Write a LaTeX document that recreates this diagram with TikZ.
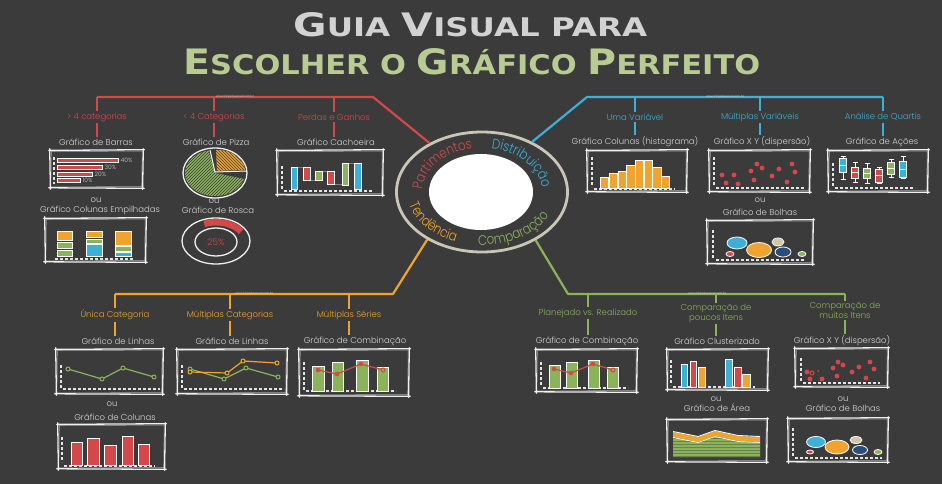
\documentclass[tikz,border=0pt]{standalone}
\usepackage{fontspec}
\usepackage{graphicx}
\usetikzlibrary{decorations.text,patterns,shapes.geometric}
\IfFontExistsTF{Poppins Light}
  {\newfontfamily\hand{Poppins Light}\newfontfamily\ringfont{Poppins Light}[FakeStretch=0.84]}
  {\newfontfamily\hand{Poppins}\newfontfamily\ringfont{Poppins}[FakeStretch=0.84]}
\newfontfamily\titlefont{DejaVu Sans}
\definecolor{bg}{HTML}{3B3B3B}
\definecolor{pred}{HTML}{D4484A}
\definecolor{pblue}{HTML}{3DB0DA}
\definecolor{porange}{HTML}{F0A430}
\definecolor{pgreen}{HTML}{8AB35B}
\definecolor{lgray}{HTML}{D6D6D6}
\definecolor{ringgray}{HTML}{C9C6B5}
\definecolor{navy}{HTML}{2B4D7E}
\definecolor{beige}{HTML}{CFC7A6}
\definecolor{titlegray}{HTML}{D2D2D2}
\definecolor{titlegreen}{HTML}{B7CB92}

% hand-drawn chart frame: x1 y1 x2 y2 (y grows downwards)
\newcommand\skbox[4]{%
  \draw[skline] (#1-1.2,#2+0.4) -- (#3+1.5,#2-0.3)
                (#3+0.3,#2-1.2) -- (#3-0.4,#4+1.3)
                (#3+1.2,#4+0.3) -- (#1-1.3,#4-0.2)
                (#1+0.4,#4+1.2) -- (#1-0.3,#2-1.3);
  \draw[skline,line width=0.5pt,opacity=0.6] (#1+1.3,#2+1.5) -- (#3-0.8,#2+1.1)
                -- (#3-1.3,#4-1.4) -- (#1+0.9,#4-1.1) -- cycle;}
\newcommand\yaxis[3]{\draw[axisl] (#1,#2) -- (#1,#3);}
\newcommand\xaxis[3]{\draw[axisl] (#2,#1) -- (#3,#1);}

\begin{document}
\begin{tikzpicture}[x=1pt,y=-1pt,
  skline/.style={draw=white!94!black,line width=1.3pt,line cap=round,line join=round},
  axisl/.style={draw=white!90!black,line width=1.3pt,dash pattern=on 3pt off 2pt},
  barw/.style={draw=white,line width=0.7pt},
  lab/.style={font=\hand\fontsize{8.5}{7}\selectfont,text=lgray,inner sep=1.5pt,align=center},
  catred/.style={lab,text=pred},
  catblue/.style={lab,text=pblue},
  catorange/.style={lab,text=porange},
  catgreen/.style={lab,text=pgreen},
  pct/.style={font=\hand\fontsize{6}{6}\selectfont,text=lgray,inner sep=0.5pt,anchor=west},
  wm/.style={font=\hand\fontsize{3}{3}\selectfont,text=white!80!gray,inner sep=0pt},
  conn/.style={line width=2.2pt},
  bub/.style={draw=white,line width=0.8pt},
  ringtext/.style={decorate,decoration={text along path,text align=left}}]

\fill[bg] (0,0) rectangle (942,484);
\useasboundingbox (0,0) rectangle (942,484);

% ---------- title ----------
\node[anchor=base west,inner sep=0,text=titlegray] (title1) at (293,37)
  {\resizebox{354pt}{24pt}{\titlefont\bfseries\fontsize{34}{34}\selectfont G\fontsize{27}{27}\selectfont UIA \fontsize{34}{34}\selectfont V\fontsize{27}{27}\selectfont ISUAL PARA}};
\node[anchor=base west,inner sep=0,text=titlegreen] (title2) at (183,75)
  {\resizebox{577pt}{26pt}{\titlefont\bfseries\fontsize{35}{35}\selectfont E\fontsize{27}{27}\selectfont SCOLHER O \fontsize{35}{35}\selectfont G\fontsize{27}{27}\selectfont R\smash{Á}FICO \fontsize{35}{35}\selectfont P\fontsize{27}{27}\selectfont ERFEITO}};

% ---------- central hub ----------
\node[ellipse,draw=ringgray,line width=2.8pt,fill=bg,minimum width=171pt,minimum height=120pt,inner sep=0pt] (hub) at (482,192) {};
\node[ellipse,fill=white,minimum width=104pt,minimum height=76pt,inner sep=0pt] (core) at (481,192) {};
\path[ringtext,decoration={text={|\ringfont\fontsize{14}{14}\selectfont\color{pred}|Partimentos}}]
  (482,192) ++(183:60 and 44) arc[start angle=183,end angle=300,x radius=60,y radius=44];
\path[ringtext,decoration={text={|\ringfont\fontsize{14}{14}\selectfont\color{pblue}|Distribuição}}]
  (482,192) ++(279:60 and 44) arc[start angle=279,end angle=400,x radius=60,y radius=44];
\path[ringtext,decoration={text={|\ringfont\fontsize{14}{14}\selectfont\color{porange}|Tendência}}]
  (482,192) ++(166:75 and 53) arc[start angle=166,end angle=40,x radius=75,y radius=53];
\path[ringtext,decoration={text={|\ringfont\fontsize{14}{14}\selectfont\color{pgreen}|Comparação}}]
  (482,192) ++(93:75 and 53) arc[start angle=93,end angle=-40,x radius=75,y radius=53];

% ---------- Partimentos (red) ----------
\coordinate (rB) at (373,97);
\coordinate (rC) at (97,97);
\coordinate (rV2) at (214,97);
\coordinate (rV3) at (334,97);
\draw[conn,pred,line join=round] (hub.137) -- (rB) -- (rC);
\node[catred] (r1) at (97,117) {> 4 categorias};
\node[catred] (r2) at (214,117) {< 4 Categorias};
\node[catred] (r3) at (334,117) {Perdas e Ganhos};
\node[lab] (r1t) at (96,142) {Gráfico de Barras};
\node[lab] (r2t) at (216,142) {Gráfico de Pizza};
\node[lab] (r3t) at (336,142) {Gráfico Cachoeira};
\draw[conn,pred] (rC) -- (r1.north) (r1.south) -- (r1.south |- r1t.north)
                 (rV2) -- (r2.north) (r2.south) -- (r2.south |- r2t.north)
                 (rV3) -- (r3.north) (r3.south) -- (r3.south |- r3t.north);
\node[wm] (wmr) at (235,97) {www.ninjadoexcel.com.br};

% bar chart
\skbox{50}{150}{143}{188}
\yaxis{54}{157}{184}
\filldraw[barw,fill=pred] (57,158.3) rectangle (118,162.7);
\filldraw[barw,fill=pred] (57,165) rectangle (102,169.3);
\filldraw[barw,fill=pred] (57,172.3) rectangle (92,176.3);
\filldraw[barw,fill=pred] (57,178.7) rectangle (80,182.7);
\node[pct] (p40) at (120,160.5) {40\%};
\node[pct] (p30) at (104,167.2) {30\%};
\node[pct] (p20) at (94,174.3) {20\%};
\node[pct] (p10) at (82,180.7) {10\%};
\node[lab] (r1o) at (96,200) {ou};
\node[lab] (r1t2) at (100,210) {Gráfico Colunas Empilhadas};
% stacked columns
\skbox{45}{218}{146}{262}
\xaxis{259}{55}{134}
\filldraw[barw,fill=porange] (57,231) rectangle (72,240);
\filldraw[barw,fill=pgreen] (57,242) rectangle (72,248.5);
\filldraw[barw,fill=pgreen] (57,250) rectangle (72,256);
\filldraw[barw,fill=porange] (86,231) rectangle (102,237.5);
\filldraw[barw,fill=pgreen] (86,239) rectangle (102,243);
\filldraw[barw,fill=pblue] (86,244.5) rectangle (102,256);
\filldraw[barw,fill=porange] (115,231) rectangle (131,245);
\filldraw[barw,fill=pgreen] (115,246.5) rectangle (131,251);
\filldraw[barw,fill=pblue] (115,252.3) rectangle (131,256);

% pie
\fill[pgreen] (215,173) -- ++(15:30 and 23) arc[start angle=15,end angle=258,x radius=30,y radius=23] -- cycle;
\fill[pattern=north east lines,pattern color=bg] (215,173) -- ++(15:30 and 23) arc[start angle=15,end angle=258,x radius=30,y radius=23] -- cycle;
\fill[porange] (217,171) -- ++(268:28 and 21) arc[start angle=268,end angle=357,x radius=28,y radius=21] -- cycle;
\fill[pattern=north west lines,pattern color=bg] (217,171) -- ++(268:28 and 21) arc[start angle=268,end angle=357,x radius=28,y radius=21] -- cycle;
\draw[skline] (215,173) ellipse[x radius=32,y radius=25];
\draw[white,line width=1pt] (210,150) -- (215,172) -- (247,171);
\node[lab] (r2o) at (214,201) {ou};
\node[lab] (r2t2) at (218,210) {Gráfico de Rosca};
% donut
\draw[skline] (216,241) ellipse[x radius=34,y radius=23];
\draw[skline] (216,242) ellipse[x radius=21,y radius=14];
\draw[pred,line width=6.5pt] (216,241) ++(246:29 and 18.8) arc[start angle=246,end angle=330,x radius=29,y radius=18.8];
\node[font=\hand\fontsize{9}{9}\selectfont,text=pred,inner sep=0pt] (r25) at (216,242) {25\%};

% waterfall
\skbox{277}{150}{383}{195}
\yaxis{282}{166}{190}
\xaxis{191}{284}{373}
\draw[gray,line width=0.6pt] (297,167) -- (303,167) (310,180) -- (315,180) (322,171) -- (327,171)
  (334,184) -- (342,184) (348,163) -- (354,163);
\filldraw[barw,fill=pblue] (291,167) rectangle (297,189);
\filldraw[barw,fill=pred] (303,167) rectangle (310,180);
\filldraw[barw,fill=pgreen] (315,171) rectangle (322,180);
\filldraw[barw,fill=pred] (327,171) rectangle (334,184);
\filldraw[barw,fill=pgreen] (342,163) rectangle (348,185);
\filldraw[barw,fill=pblue] (354,163) rectangle (361,189);

% ---------- Distribuicao (blue) ----------
\coordinate (bB) at (587,97);
\coordinate (bC) at (883,97);
\coordinate (bV1) at (635,97);
\coordinate (bV2) at (760,97);
\draw[conn,pblue,line join=round] (hub.45) -- (bB) -- (bC);
\node[catblue] (b1) at (635,117) {Uma Variável};
\node[catblue] (b2) at (760,117) {Múltiplas Variáveis};
\node[catblue] (b3) at (883,117) {Análise de Quartis};
\node[lab] (b1t) at (635,142) {Gráfico Colunas (histograma)};
\node[lab] (b2t) at (762,142) {Gráfico X Y (dispersão)};
\node[lab] (b3t) at (882,142) {Gráfico de Ações};
\draw[conn,pblue] (bV1) -- (b1.north) (b1.south) -- (b1.south |- b1t.north)
                  (bV2) -- (b2.north) (b2.south) -- (b2.south |- b2t.north)
                  (bC) -- (b3.north) (b3.south) -- (b3.south |- b3t.north);
\node[wm] (wmb) at (725,97) {www.ninjadoexcel.com.br};

% histogram
\skbox{587}{150}{687}{192}
\yaxis{592}{157}{187}
\xaxis{189}{594}{675}
\foreach \l/\t in {600/177,609.3/173,618.3/171,626.7/165,635/160,644/160,652.7/167,661/176}
  \filldraw[barw,fill=porange] (\l,\t) rectangle (\l+8.4,188);
% scatter
\skbox{709}{150}{810}{192}
\yaxis{714}{157}{186}
\xaxis{188}{716}{805}
\foreach \p in {(722,175),(726,183),(734,175),(738,184),(751,171),(754,180),(757,164),(762,168),(772,176),(779,169),(787,182),(792,164),(795,172)}
  \fill[pred] \p circle[radius=2.4];
% box plots
\skbox{828}{150}{928}{192}
\yaxis{833}{163}{186}
\xaxis{188}{835}{915}
\foreach \x/\c/\wa/\wb/\ba/\bb in {843/pblue/156/179/158/172,855/pred/162/182/167/178,867/pgreen/163/183/168/178,879/pred/167/183/169/182,891/pgreen/159/177/162/174,903/pblue/156/178/161/177}{
  \draw[white,line width=0.8pt] (\x,\wa) -- (\x,\wb) (\x-2.5,\wa) -- (\x+2.5,\wa) (\x-2.5,\wb) -- (\x+2.5,\wb);
  \filldraw[barw,fill=\c] (\x-3.5,\ba) rectangle (\x+3.5,\bb);
  \draw[white,line width=0.8pt] (\x-3.5,{(\ba+\bb)/2}) -- (\x+3.5,{(\ba+\bb)/2});
}
\node[lab] (b2o) at (760,200) {ou};
\node[lab] (b2t2) at (760,212) {Gráfico de Bolhas};
% bubbles
\skbox{707}{220}{813}{264}
\yaxis{713}{230}{258}
\xaxis{260}{716}{805}
\filldraw[bub,fill=pblue] (737,243) ellipse[x radius=10,y radius=6];
\filldraw[bub,fill=porange] (759,250) ellipse[x radius=12.5,y radius=7.5];
\filldraw[bub,fill=beige] (778,242) ellipse[x radius=6,y radius=4];
\filldraw[bub,fill=navy] (783,252) ellipse[x radius=8,y radius=5];
\filldraw[bub,fill=pred] (730,254) ellipse[x radius=4,y radius=2.5];
\filldraw[bub,fill=pgreen] (802,254) ellipse[x radius=4,y radius=2.5];

% ---------- Tendencia (orange) ----------
\coordinate (oB) at (393,294);
\coordinate (oC) at (115,294);
\coordinate (oV2) at (230,294);
\coordinate (oV3) at (349,294);
\draw[conn,porange,line join=round] (hub.221) -- (oB) -- (oC);
\node[catorange] (o1) at (115,315) {Única Categoria};
\node[catorange] (o2) at (230,315) {Múltiplas Categorias};
\node[catorange] (o3) at (349,315) {Múltiplas Séries};
\node[lab] (o1t) at (118,341) {Gráfico de Linhas};
\node[lab] (o2t) at (232,341) {Gráfico de Linhas};
\node[lab] (o3t) at (355,341) {Gráfico de Combinação};
\draw[conn,porange] (oC) -- (o1.north) (o1.south) -- (o1.south |- o1t.north)
                    (oV2) -- (o2.north) (o2.south) -- (o2.south |- o2t.north)
                    (oV3) -- (o3.north) (o3.south) -- (o3.south |- o3t.north);
\node[wm] (wmo) at (254,294) {www.ninjadoexcel.com.br};

% single line
\skbox{56}{349}{163}{394}
\yaxis{61}{365}{388}
\xaxis{389}{63}{160}
\draw[pgreen,line width=1.2pt] (68,369) -- (102,379) -- (123,368) -- (154,377);
\foreach \p in {(68,369),(102,379),(123,368),(154,377)}
  \filldraw[pgreen,fill=bg,line width=1pt] \p circle[radius=2];
% multiple lines
\skbox{177}{349}{287}{394}
\yaxis{182}{365}{388}
\xaxis{389}{184}{284}
\draw[pgreen,line width=1.2pt] (190,369) -- (224,379) -- (246,368) -- (278,377);
\foreach \p in {(190,369),(224,379),(246,368),(278,377)}
  \filldraw[pgreen,fill=bg,line width=1pt] \p circle[radius=2];
\draw[porange,line width=1.2pt] (190,372) -- (227,373) -- (243,361) -- (277,363);
\foreach \p in {(190,372),(227,373),(243,361),(277,363)}
  \filldraw[porange,fill=bg,line width=1pt] \p circle[radius=2];
% combination
\skbox{299}{349}{409}{396}
\yaxis{304}{362}{390}
\xaxis{391}{306}{396}
\filldraw[barw,fill=pgreen] (312,366) rectangle (324,391);
\filldraw[barw,fill=pgreen] (332,362) rectangle (343,391);
\filldraw[barw,fill=pgreen] (356,360) rectangle (368,391);
\filldraw[barw,fill=pgreen] (377,367) rectangle (388,391);
\draw[pred,line width=1.2pt] (318,370) -- (337,374) -- (361,364) -- (383,370);
\foreach \p in {(318,370),(337,374),(361,364)} \fill[pred] \p circle[radius=2.3];
\filldraw[pred,fill=pgreen,line width=1pt] (383,370) circle[radius=2];
\node[lab] (o1o) at (112,404) {ou};
\node[lab] (o1t2) at (115,417) {Gráfico de Colunas};
% columns
\skbox{58}{424}{165}{469}
\yaxis{62}{437}{462}
\xaxis{466}{64}{155}
\foreach \a/\b/\t in {71/82/442,87/99/438,104/116/445,122/133/436,138/149/444}
  \filldraw[barw,fill=pred] (\a,\t) rectangle (\b,465);

% ---------- Comparacao (green) ----------
\coordinate (gB) at (568,294);
\coordinate (gC) at (845,294);
\coordinate (gV1) at (588,294);
\coordinate (gV2) at (716,294);
\draw[conn,pgreen,line join=round] (hub.318) -- (gB) -- (gC);
\node[catgreen] (g1) at (588,313) {Planejado vs. Realizado};
\node[catgreen] (g2) at (716,313.5) {Comparação de\\poucos Itens};
\node[catgreen] (g3) at (845,310.5) {Comparação de\\muitos Itens};
\node[lab] (g1t) at (587,341) {Gráfico de Combinação};
\node[lab] (g2t) at (717,341) {Gráfico Clusterizado};
\node[lab] (g3t) at (842,341) {Gráfico X Y (dispersão)};
\draw[conn,pgreen] (gV1) -- (g1.north) (g1.south) -- (g1.south |- g1t.north)
                   (gV2) -- (g2.north) (g2.south) -- (g2.south |- g2t.north)
                   (gC) -- (g3.north) (g3.south) -- (g3.south |- g3t.north);
\node[wm] (wmg) at (707,294) {www.ninjadoexcel.com.br};

% planned vs actual
\skbox{536}{349}{637}{392}
\yaxis{541}{362}{386}
\xaxis{388}{543}{628}
\filldraw[barw,fill=pgreen] (549,365) rectangle (560,388);
\filldraw[barw,fill=pgreen] (566,362) rectangle (577,388);
\filldraw[barw,fill=pgreen] (588,360) rectangle (599,388);
\filldraw[barw,fill=pgreen] (607,367) rectangle (618,388);
\draw[pred,line width=1.2pt] (554,369) -- (571,373) -- (593,364) -- (613,370);
\foreach \p in {(554,369),(571,373),(593,364)} \fill[pred] \p circle[radius=2.3];
\filldraw[pred,fill=pgreen,line width=1pt] (613,370) circle[radius=2];
% clustered
\skbox{667}{349}{768}{390}
\yaxis{671}{360}{385}
\xaxis{387}{673}{755}
\filldraw[barw,fill=pblue] (681,364) rectangle (687,387);
\filldraw[barw,fill=pred] (690,361) rectangle (696,387);
\filldraw[barw,fill=porange] (698,367) rectangle (705,387);
\filldraw[barw,fill=pblue] (725,359) rectangle (732,387);
\filldraw[barw,fill=pred] (734,367) rectangle (741,387);
\filldraw[barw,fill=porange] (742,374) rectangle (750,387);
% scatter
\skbox{795}{348}{888}{387}
\yaxis{801}{358}{381}
\xaxis{383}{803}{880}
\foreach \p in {(807,372),(810,379),(822,379),(833,368),(838,362),(843,365),(837,376),(852,372),(859,367),(866,378),(870,362),(874,369)}
  \fill[pred] \p circle[radius=2.4];
\filldraw[pred,fill=bg,line width=1pt] (812,373) circle[radius=2];
\fill[pred] (818,371) circle[radius=1];
\node[lab] (g2o) at (716,399) {ou};
\node[lab] (g2t2) at (717,408) {Gráfico de Área};
% area
\skbox{667}{419}{767}{462}
\fill[pgreen] (673,437) -- (698,442) -- (715,436) -- (738,441) -- (760,442) -- (760,457) -- (673,457) -- cycle;
\fill[pattern=horizontal lines,pattern color=bg!40!pgreen] (673,437) -- (698,442) -- (715,436) -- (738,441) -- (760,442) -- (760,457) -- (673,457) -- cycle;
\fill[porange] (673,432) -- (698,437) -- (715,431) -- (738,436) -- (760,437) -- (760,442) -- (738,441) -- (715,436) -- (698,442) -- (673,437) -- cycle;
\draw[white,line width=0.9pt] (673,431.5) -- (698,436.5) -- (715,430.5) -- (738,435.5) -- (760,436.5);
\draw[white,line width=0.7pt] (673,437.5) -- (698,442.5) -- (715,436.5) -- (738,441.5) -- (760,442.5);
\node[lab] (g3o) at (843,399) {ou};
\node[lab] (g3t2) at (843,408) {Gráfico de Bolhas};
% bubbles
\skbox{788}{418}{888}{462}
\yaxis{793}{428}{456}
\xaxis{458}{795}{882}
\filldraw[bub,fill=pblue] (816,442) ellipse[x radius=9.5,y radius=5.5];
\filldraw[bub,fill=porange] (837,447) ellipse[x radius=12,y radius=7];
\filldraw[bub,fill=beige] (856,440) ellipse[x radius=6,y radius=3.5];
\filldraw[bub,fill=navy] (860,450) ellipse[x radius=7.5,y radius=4.5];
\filldraw[bub,fill=pred] (810,452) ellipse[x radius=3.5,y radius=2];
\filldraw[bub,fill=pgreen] (878,452) ellipse[x radius=4,y radius=2.5];
\end{tikzpicture}
\end{document}
